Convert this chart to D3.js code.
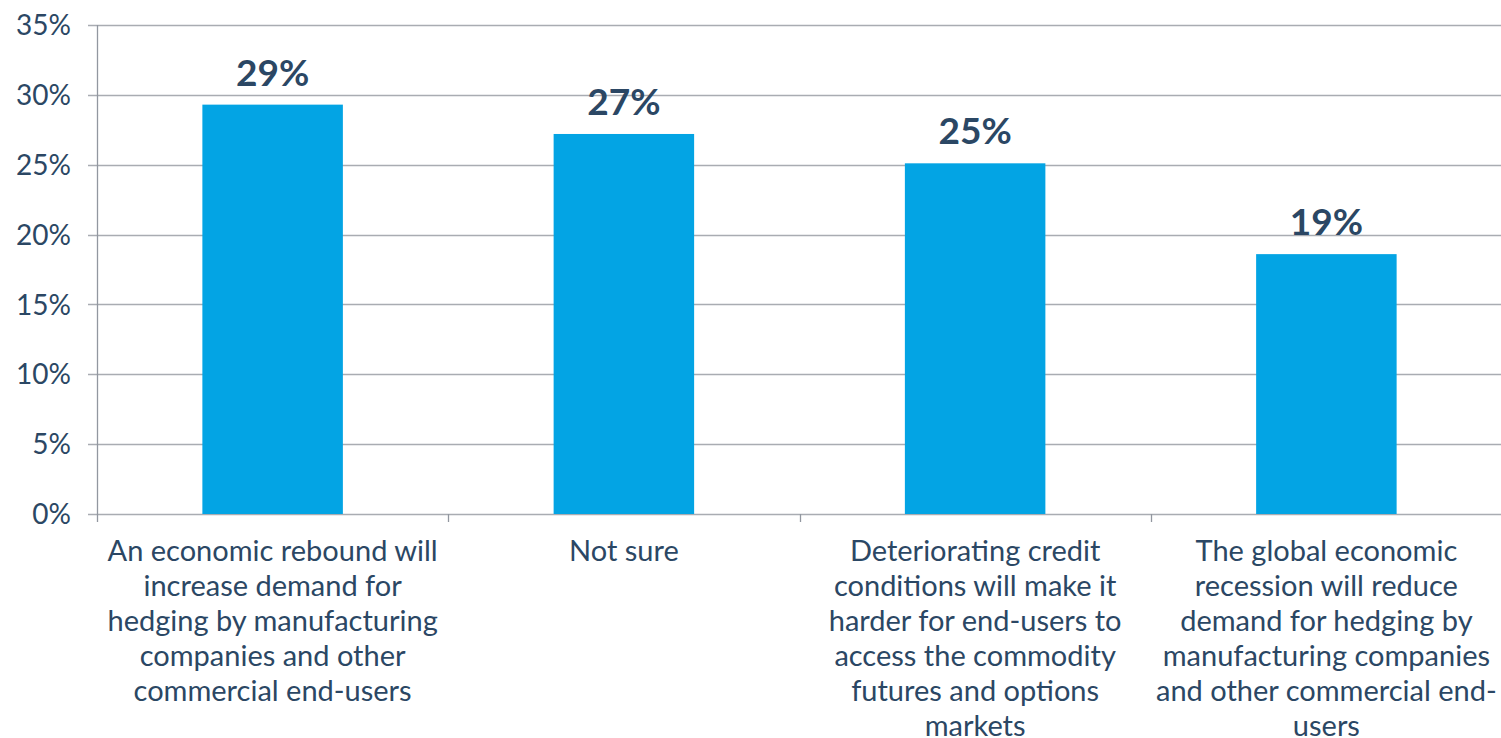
<!DOCTYPE html>
<html>
<head>
<meta charset="utf-8">
<script src="https://cdn.jsdelivr.net/npm/d3@7"></script>
<style>
  html, body { margin: 0; padding: 0; background: #fff; }
  svg { display: block; font-family: Lato, "Open Sans", sans-serif; }
</style>
</head>
<body>
<svg id="chart" width="1501" height="738"></svg>
<script>
// Survey responses: expected effect on hedging demand
const categories = [
  "An economic rebound will increase demand for hedging by manufacturing companies and other commercial end-users",
  "Not sure",
  "Deteriorating credit conditions will make it harder for end-users to access the commodity futures and options markets",
  "The global economic recession will reduce demand for hedging by manufacturing companies and other commercial end-users"
];
const categoryLines = [
  ["An economic rebound will", "increase demand for", "hedging by manufacturing", "companies and other", "commercial end-users"],
  ["Not sure"],
  ["Deteriorating credit", "conditions will make it", "harder for end-users to", "access the commodity", "futures and options", "markets"],
  ["The global economic", "recession will reduce", "demand for hedging by", "manufacturing companies", "and other commercial end-", "users"]
];
const shares = [0.293, 0.272, 0.251, 0.186];
const yTicks = [0, 0.05, 0.10, 0.15, 0.20, 0.25, 0.30, 0.35];

const svg = d3.select("#chart");
const margin = { top: 25, right: 0, bottom: 224, left: 97 };
const width = 1501 - margin.left - margin.right;
const height = 738 - margin.top - margin.bottom;

const textColor = "#2B4764";
const gridColor = "#A9ACB2";
const axisColor = "#9297A0";

const x = d3.scaleBand().domain(categories).range([0, width + 1]).padding(0);
const y = d3.scaleLinear().domain([0, 0.35]).range([height, 0]);

const g = svg.append("g").attr("transform", `translate(${margin.left},${margin.top})`);

// horizontal gridlines with left tick stubs
g.append("g")
  .selectAll("line")
  .data(yTicks)
  .join("line")
  .attr("x1", -9)
  .attr("x2", width)
  .attr("y1", d => Math.round(y(d)) + 0.5)
  .attr("y2", d => Math.round(y(d)) + 0.5)
  .attr("stroke", gridColor)
  .attr("stroke-width", 1.3);

// y tick labels
g.append("g")
  .selectAll("text")
  .data(yTicks)
  .join("text")
  .attr("x", -26)
  .attr("y", d => y(d))
  .attr("dy", "0.36em")
  .attr("text-anchor", "end")
  .attr("fill", textColor)
  .style("font-size", "28px")
  .text(d3.format(".0%"));

// bars
const barW = x.bandwidth() * 0.4;
g.append("g")
  .selectAll("rect")
  .data(shares)
  .join("rect")
  .attr("x", (d, i) => x(categories[i]) + (x.bandwidth() - barW) / 2)
  .attr("y", d => y(d))
  .attr("width", barW)
  .attr("height", d => y(0) - y(d))
  .attr("fill", "#03A4E4");

// value labels
g.append("g")
  .selectAll("text")
  .data(shares)
  .join("text")
  .attr("x", (d, i) => x(categories[i]) + x.bandwidth() / 2)
  .attr("y", d => y(d) - 19)
  .attr("text-anchor", "middle")
  .attr("fill", textColor)
  .style("font-size", "37px")
  .style("font-weight", "bold")
  .text(d3.format(".0%"));

// axes lines
g.append("line")
  .attr("x1", 0.5).attr("x2", 0.5)
  .attr("y1", 0).attr("y2", height + 8)
  .attr("stroke", axisColor).attr("stroke-width", 1.3);

g.append("g")
  .selectAll("line")
  .data(categories.slice(1))
  .join("line")
  .attr("x1", d => Math.round(x(d)) + 0.5)
  .attr("x2", d => Math.round(x(d)) + 0.5)
  .attr("y1", height)
  .attr("y2", height + 8)
  .attr("stroke", axisColor).attr("stroke-width", 1.3);

// category labels
const cat = g.append("g")
  .selectAll("text")
  .data(categories)
  .join("text")
  .attr("x", d => x(d) + x.bandwidth() / 2)
  .attr("y", height + 47)
  .attr("text-anchor", "middle")
  .attr("fill", textColor)
  .style("font-size", "29px");

cat.each(function(d, i) {
  d3.select(this).selectAll("tspan")
    .data(categoryLines[i])
    .join("tspan")
    .attr("x", x(d) + x.bandwidth() / 2)
    .attr("dy", (t, j) => j === 0 ? 0 : 35)
    .text(t => t);
});
</script>
</body>
</html>
